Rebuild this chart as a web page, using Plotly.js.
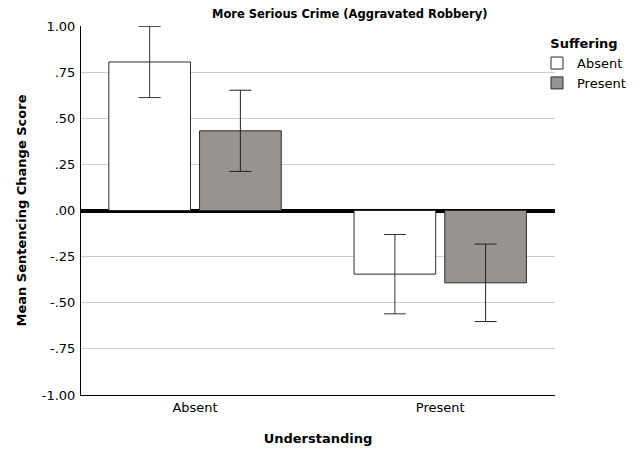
<!DOCTYPE html>
<html>
<head>
<meta charset="utf-8">
<script src="https://cdn.plot.ly/plotly-3.0.1.min.js"></script>
<style>html,body{margin:0;padding:0;background:#fff;}#chart{width:641px;height:450px;}</style>
</head>
<body>
<div id="chart"></div>
<script>
var categories = ["Absent", "Present"];
var seriesNames = ["Absent", "Present"];
var absentValues = [0.805, -0.345];
var absentErrors = [0.193, 0.215];
var presentValues = [0.432, -0.392];
var presentErrors = [0.22, 0.21];
var yTickVals = [1, 0.75, 0.5, 0.25, 0, -0.25, -0.5, -0.75, -1];
var yTickText = ["1.00", ".75", ".50", ".25", ".00", "-.25", "-.50", "-.75", "-1.00"];

var font = "DejaVu Sans, Arial, sans-serif";
var traces = [
  {
    type: "bar", name: seriesNames[0], x: categories, y: absentValues,
    marker: {color: "#ffffff", line: {color: "#2b2b2b", width: 1}},
    error_y: {type: "data", array: absentErrors, visible: true, color: "#333333", thickness: 1, width: 11}
  },
  {
    type: "bar", name: seriesNames[1], x: categories, y: presentValues,
    marker: {color: "#979391", line: {color: "#2b2b2b", width: 1}},
    error_y: {type: "data", array: presentErrors, visible: true, color: "#222222", thickness: 1, width: 11}
  }
];

var layout = {
  width: 641, height: 450,
  paper_bgcolor: "#ffffff", plot_bgcolor: "#ffffff",
  font: {family: font, size: 13, color: "#000000"},
  margin: {l: 81, r: 86, t: 26, b: 55, autoexpand: false},
  barmode: "group", bargap: 0.26, bargroupgap: 0.1,
  title: {text: "<b>More Serious Crime (Aggravated Robbery)</b>", font: {family: font, size: 11.5, color: "#000"},
          xref: "paper", x: 0.567, xanchor: "center", yref: "container", y: 0.969, yanchor: "middle"},
  xaxis: {
    type: "category", range: [-0.465, 1.468],
    showgrid: false, zeroline: false,
    showline: true, linecolor: "#000", linewidth: 1,
    ticks: "", tickfont: {size: 13},
    title: {text: "<b>Understanding</b>", font: {size: 13}, standoff: 20}
  },
  yaxis: {
    range: [-1, 1], tickvals: yTickVals, ticktext: yTickText,
    showgrid: true, gridcolor: "#cccccc", gridwidth: 1,
    zeroline: true, zerolinecolor: "#000", zerolinewidth: 4,
    showline: true, linecolor: "#000", linewidth: 1,
    ticks: "", ticklabelstandoff: 2, tickfont: {size: 13},
    title: {text: "<b>Mean Sentencing Change Score</b>", font: {size: 13}, standoff: 12}
  },
  showlegend: true,
  legend: {
    title: {text: "<b>Suffering</b>", font: {size: 13}, side: "top center"},
    x: 0.962, xanchor: "left", y: 0.986, yanchor: "top",
    bgcolor: "rgba(0,0,0,0)", font: {size: 13}, traceorder: "normal",
    itemwidth: 30
  }
};

Plotly.newPlot("chart", traces, layout, {displayModeBar: false, staticPlot: true});
</script>
</body>
</html>
